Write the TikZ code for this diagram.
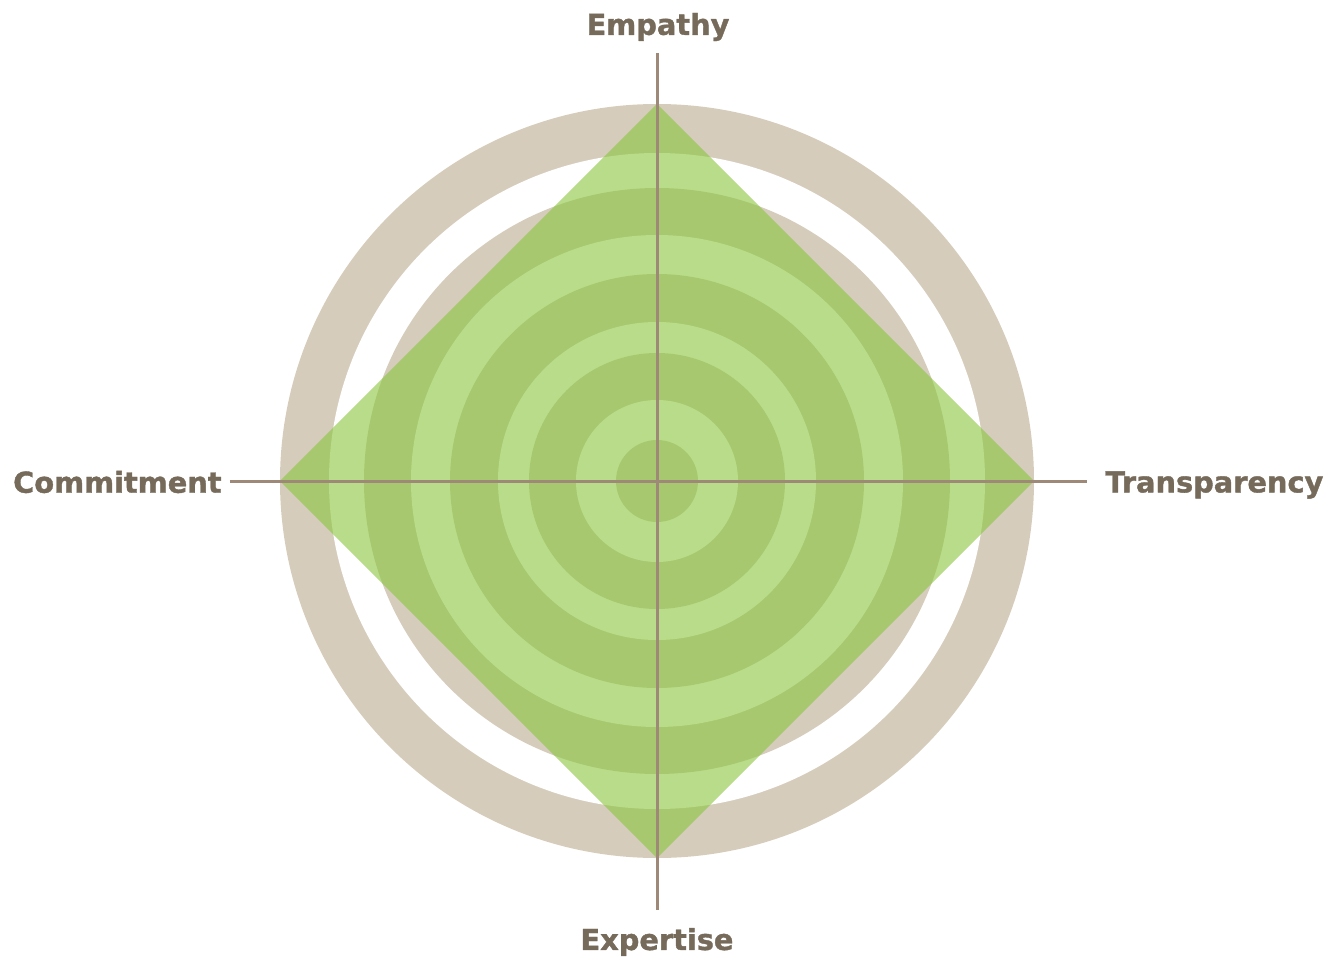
\documentclass[tikz,border=0pt]{standalone}
\usepackage{fontspec}
\setmainfont{DejaVu Sans}[BoldFeatures={FakeBold=1.3}]
\usepackage{tikz}

\definecolor{ringbeige}{RGB}{214,204,187}
\definecolor{leafgreen}{RGB}{137,198,60}
\definecolor{axisbrown}{RGB}{158,136,120}
\definecolor{labelbrown}{RGB}{118,106,90}

\tikzset{
 axislabel/.style={text=labelbrown,inner sep=0pt,font=\fontsize{14.4}{17}\selectfont\bfseries},
 axisline/.style={draw=axisbrown,line width=1.5pt}
}

\begin{document}
\begin{tikzpicture}[x=0.5pt,y=0.5pt]
 \useasboundingbox (-657,-477) rectangle (674,481);
 \fill [ringbeige] (0,0) circle (377);
 \fill [white] (0,0) circle (328);
 \fill [ringbeige] (0,0) circle (293);
 \fill [white] (0,0) circle (246);
 \fill [ringbeige] (0,0) circle (207);
 \fill [white] (0,0) circle (159);
 \fill [ringbeige] (0,0) circle (128);
 \fill [white] (0,0) circle (81);
 \fill [ringbeige] (0,0) circle (41);
 \fill [leafgreen,opacity=0.6] (0,377) -- (377,0) -- (0,-377) -- (-377,0) -- cycle;
 \coordinate (top) at (0,428);
 \coordinate (bottom) at (0,-429);
 \coordinate (left) at (-427,0);
 \coordinate (right) at (430,0);
 \draw [axisline] (top) -- (bottom);
 \draw [axisline] (left) -- (right);
 \node [axislabel] (empathy) at (1,454) {Empathy};
 \node [axislabel] (expertise) at (0,-461) {Expertise};
 \node [axislabel,anchor=east] (commitment) at (-435,-1) {Commitment};
 \node [axislabel,anchor=west] (transparency) at (448,-4) {Transparency};
\end{tikzpicture}
\end{document}
